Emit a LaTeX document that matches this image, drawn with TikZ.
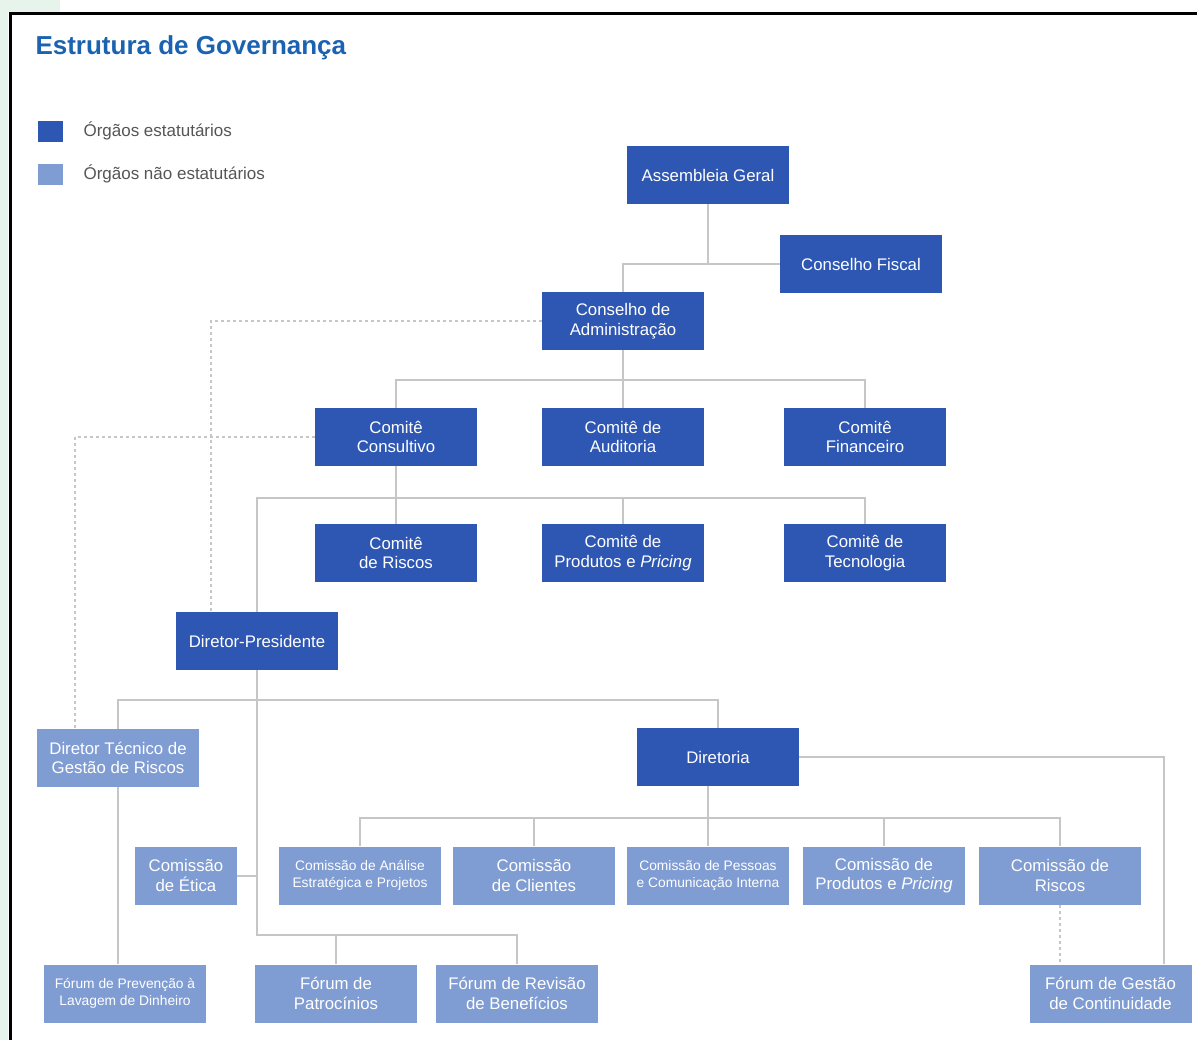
\documentclass[tikz,border=0pt]{standalone}
\usepackage{fontspec}
\setmainfont{Liberation Sans}
\usepackage{xcolor}
\usepackage{tikz}

\definecolor{azulesc}{HTML}{2E57B3}
\definecolor{azulcla}{HTML}{7F9CD3}
\definecolor{azultit}{HTML}{1B63B0}
\definecolor{cinzalin}{HTML}{C6C6C6}
\definecolor{cinzatxt}{HTML}{555555}
\definecolor{verdefundo}{HTML}{E6F4EC}

\begin{document}
\begin{tikzpicture}[x=1pt, y=-1pt,
    caixa/.style={text=white, minimum width=162pt, minimum height=58pt,
        inner sep=0pt, align=center, font=\fontsize{16.8}{19.5}\selectfont},
    estat/.style={caixa, fill=azulesc},
    naoestat/.style={caixa, fill=azulcla},
    miudo/.style={font=\fontsize{13.8}{16.5}\selectfont},
    ligacao/.style={draw=cinzalin, line width=2pt},
    pontilhado/.style={draw=cinzalin, line width=2pt, dash pattern=on 3pt off 3pt}]
            \useasboundingbox (0,0) rectangle (1197,1040);
            % fundo e moldura
            \fill[verdefundo] (0,0) rectangle (8,1040);
            \fill[verdefundo] (0,0) rectangle (60,12);
            \draw[line width=3pt] (10,1040) -- (10,13.5) -- (1197,13.5);

            % titulo
            \node[anchor=west, text=azultit, font=\fontsize{26}{30}\selectfont\bfseries] (titulo) at (32,48) {Estrutura de Governança};

            % legenda
            \node[fill=azulesc, minimum width=25pt, minimum height=21pt, inner sep=0pt] (legest) at (50.5,131.5) {};
            \node[fill=azulcla, minimum width=25pt, minimum height=21pt, inner sep=0pt] (legnao) at (50.5,174.5) {};
            \node[anchor=west, text=cinzatxt, font=\fontsize{17}{20}\selectfont] (txtest) at (80,131) {Órgãos estatutários};
            \node[anchor=west, text=cinzatxt, font=\fontsize{17}{20}\selectfont] (txtnao) at (80,174) {Órgãos não estatutários};

            % orgaos estatutarios
            \node[estat] (ag) at (708,175) {Assembleia Geral};
            \node[estat] (cf) at (861,264) {Conselho Fiscal};
            \node[estat] (ca) at (623,321) {Conselho de\\Administração};
            \node[estat] (ccons) at (396,437) {Comitê\\Consultivo};
            \node[estat] (caud) at (623,437) {Comitê de\\Auditoria};
            \node[estat] (cfin) at (865,437) {Comitê\\Financeiro};
            \node[estat] (crisc) at (396,553) {Comitê\\de Riscos};
            \node[estat] (cprod) at (623,553) {Comitê de\\Produtos e \textit{Pricing}};
            \node[estat] (ctec) at (865,553) {Comitê de\\Tecnologia};
            \node[estat] (dp) at (257,641) {Diretor-Presidente};
            \node[estat] (dir) at (718,757) {Diretoria};

            % orgaos nao estatutarios
            \node[naoestat] (dtgr) at (118,758) {Diretor Técnico de\\Gestão de Riscos};
            \node[naoestat, minimum width=102pt] (cet) at (186,875.5) {Comissão\\de Ética};
            \node[naoestat, miudo] (caep) at (360,875.5) {Comissão de Análise\\Estratégica e Projetos};
            \node[naoestat] (ccli) at (534,875.5) {Comissão\\de Clientes};
            \node[naoestat, miudo] (cpci) at (708,875.5) {Comissão de Pessoas\\e Comunicação Interna};
            \node[naoestat] (cpp) at (884,875.5) {Comissão de\\Produtos e \textit{Pricing}};
            \node[naoestat] (cris) at (1060,875.5) {Comissão de\\Riscos};
            \node[naoestat, miudo] (fpld) at (125,993.5) {Fórum de Prevenção à\\Lavagem de Dinheiro};
            \node[naoestat] (fpat) at (336,993.5) {Fórum de\\Patrocínios};
            \node[naoestat] (frb) at (517,993.5) {Fórum de Revisão\\de Benefícios};
            \node[naoestat] (fgc) at (1110.5,993.5) {Fórum de Gestão\\de Continuidade};

            % ligacoes
            \draw[ligacao] (ag.south) |- (cf.west);
            \draw[ligacao] (ca.north) |- (cf.west);
            \draw[ligacao] (ca.south) -- (caud.north);
            \draw[ligacao] (ccons.north) -- ++(0,-28) -| (cfin.north);
            \draw[ligacao] (ccons.south) -- (crisc.north);
            \draw[ligacao] (dp.north) -- ++(0,-114) -| (ctec.north);
            \draw[ligacao] (cprod.north) -- ++(0,-26);
            \draw[ligacao] (dtgr.north) -- ++(0,-29) -| (dir.north);
            \draw[ligacao] (dp.south) -- ++(0,265) -| (frb.north);
            \draw[ligacao] (fpat.north) -- ++(0,-30);
            \draw[ligacao] (cet.east) -- (cet.east -| dp.south);
            \draw[ligacao] (dtgr.south) -- (dtgr.south |- fpld.north);
            \draw[ligacao] (dir.south -| cpci.north) -- (cpci.north);
            \draw[ligacao] (caep.north) -- ++(0,-28.5) -| (cris.north);
            \draw[ligacao] (ccli.north) -- ++(0,-28.5);
            \draw[ligacao] (cpp.north) -- ++(0,-28.5);
            \draw[ligacao] (dir.east) -| ([xshift=53.5pt]fgc.north);

            % ligacoes pontilhadas
            \draw[pontilhado] (ca.west) -| ([xshift=-46pt]dp.north);
            \draw[pontilhado] (ccons.west) -| ([xshift=-43pt]dtgr.north);
            \draw[pontilhado] (cris.south) -- (cris.south |- fgc.north);
        \end{tikzpicture}
\end{document}
